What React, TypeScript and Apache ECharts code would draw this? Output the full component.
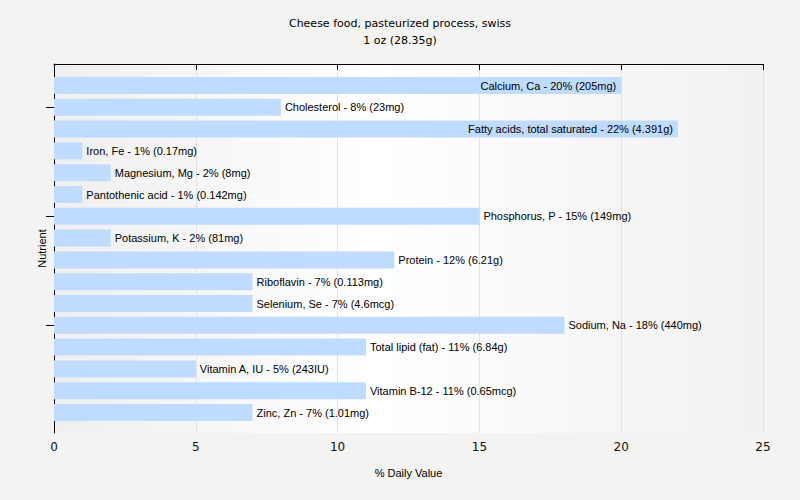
import React, { useEffect, useRef } from "react";
import * as echarts from "echarts";

const categories = [
  "Calcium, Ca",
  "Cholesterol",
  "Fatty acids, total saturated",
  "Iron, Fe",
  "Magnesium, Mg",
  "Pantothenic acid",
  "Phosphorus, P",
  "Potassium, K",
  "Protein",
  "Riboflavin",
  "Selenium, Se",
  "Sodium, Na",
  "Total lipid (fat)",
  "Vitamin A, IU",
  "Vitamin B-12",
  "Zinc, Zn",
];
const dailyValues = [20, 8, 22, 1, 2, 1, 15, 2, 12, 7, 7, 18, 11, 5, 11, 7];
const amounts = [
  "205mg",
  "23mg",
  "4.391g",
  "0.17mg",
  "8mg",
  "0.142mg",
  "149mg",
  "81mg",
  "6.21g",
  "0.113mg",
  "4.6mcg",
  "440mg",
  "6.84g",
  "243IU",
  "0.65mcg",
  "1.01mg",
];
const xTicks = [0, 5, 10, 15, 20, 25];
const yTickCategoryIndices = [1, 6, 11];

const FONT = "'Liberation Sans', Arial, sans-serif";

export default function App() {
  const ref = useRef<HTMLDivElement>(null);
  useEffect(() => {
    if (!ref.current) return;
    const chart = echarts.init(ref.current, undefined, { renderer: "svg" });
    const gridLeft = 54;
    const gridWidth = 709;
    const frameTop = 64;
    const frameHeight = 369;
    const barTop = 74.6;
    const barHeight = 348.8;
    const band = barHeight / categories.length;
    const tickValues = yTickCategoryIndices.map(
      (i) => (barTop - frameTop + band * (i + 0.5)) / frameHeight
    );
    const option: any = {
      animation: false,
      backgroundColor: "#f3f3f1",
      title: {
        text: "Cheese food, pasteurized process, swiss\n1 oz (28.35g)",
        left: "center",
        top: 10,
        textStyle: {
          fontFamily: "'DejaVu Sans', Verdana, sans-serif",
          fontSize: 11,
          fontWeight: "normal",
          color: "#000",
          lineHeight: 17,
        },
      },
      grid: [
        {
          left: gridLeft,
          width: gridWidth,
          top: frameTop,
          height: frameHeight,
          show: true,
          borderWidth: 0,
          backgroundColor: new echarts.graphic.LinearGradient(0, 0, 1, 0, [
            { offset: 0, color: "#efefef" },
            { offset: 0.45, color: "#ffffff" },
            { offset: 1, color: "#f1f1f1" },
          ]),
        },
        {
          left: gridLeft,
          width: gridWidth,
          top: barTop,
          height: barHeight,
        },
      ],
      xAxis: [
        {
          gridIndex: 0,
          type: "value",
          min: xTicks[0],
          max: xTicks[xTicks.length - 1],
          interval: 5,
          axisLine: { show: true, lineStyle: { color: "#000", width: 1 } },
          axisTick: { show: true, length: 6, lineStyle: { color: "#000" } },
          axisLabel: {
            margin: 8,
            fontSize: 12,
            fontFamily: "'DejaVu Sans', Verdana, sans-serif",
            color: "#111",
          },
          splitLine: { show: true, lineStyle: { color: "#e2e2e2", width: 1 } },
          name: "% Daily Value",
          nameLocation: "middle",
          nameGap: 34,
          nameTextStyle: { fontFamily: FONT, fontSize: 11, color: "#000" },
        },
        {
          gridIndex: 1,
          type: "value",
          min: xTicks[0],
          max: xTicks[xTicks.length - 1],
          show: false,
        },
      ],
      yAxis: [
        {
          gridIndex: 0,
          type: "value",
          min: 0,
          max: 1,
          inverse: true,
          axisLine: { show: true, lineStyle: { color: "#000", width: 1 } },
          axisTick: {
            show: true,
            length: 8,
            customValues: tickValues,
            lineStyle: { color: "#000", width: 1 },
          },
          axisLabel: { show: false },
          splitLine: { show: false },
          name: "Nutrient",
          nameLocation: "middle",
          nameGap: 7,
          nameTextStyle: { fontFamily: FONT, fontSize: 11, color: "#000" },
        },
        {
          gridIndex: 1,
          type: "category",
          inverse: true,
          data: categories,
          show: false,
        },
      ],
      series: [
        {
          type: "bar",
          xAxisIndex: 1,
          yAxisIndex: 1,
          barWidth: 17,
          itemStyle: { color: "#bfdbfe" },
          data: dailyValues.map((v, i) => ({
            value: v,
            label: {
              show: true,
              position: v >= 19 ? "insideRight" : "right",
              distance: v >= 19 ? 5 : 4,
              formatter: `${categories[i]} - ${v}% (${amounts[i]})`,
              fontFamily: FONT,
              fontSize: 11,
              color: "#000",
            },
          })),
        },
      ],
    };
    chart.setOption(option);
    return () => chart.dispose();
  }, []);
  return (
    <div
      ref={ref}
      style={{ position: "fixed", left: 0, top: 0, width: 800, height: 500 }}
    />
  );
}
